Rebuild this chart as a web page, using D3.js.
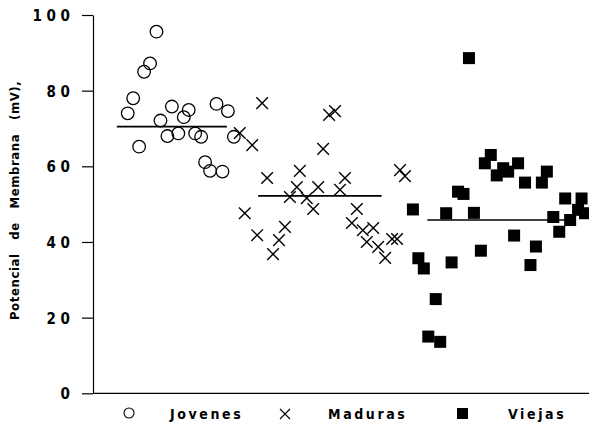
<!DOCTYPE html>
<html>
<head>
<meta charset="utf-8">
<script src="https://cdn.jsdelivr.net/npm/d3@7"></script>
<style>
  html, body { margin: 0; padding: 0; background: #fff; }
  svg { display: block; }
  text { font-family: "Liberation Sans Narrow", "DejaVu Sans Condensed", "Liberation Sans", sans-serif; font-weight: bold; fill: #000; }
</style>
</head>
<body>
<svg id="chart" width="589" height="431"></svg>
<script>
// Membrane potential (mV) per cell, grouped by age; pos = horizontal jitter along the axis (0-100)
const jovenesPos = [12.8, 11.5, 10.3, 8.1, 7.0, 9.3, 13.6, 15.0, 15.9, 17.2, 18.3, 19.3, 20.6, 21.8, 24.9, 27.2, 28.4, 22.6, 23.6, 26.1];
const jovenesVal = [95.6, 87.2, 85.0, 78.0, 74.0, 65.2, 72.1, 68.0, 75.8, 68.7, 73.0, 74.9, 68.7, 67.8, 76.5, 74.6, 67.8, 61.1, 58.8, 58.6];

const madurasPos = [29.6, 32.1, 34.1, 35.1, 41.7, 41.1, 39.7, 43.1, 44.4, 30.6, 45.4, 47.6, 48.8, 46.4, 50.8, 49.8, 53.2, 61.9, 62.9, 38.7, 33.1, 37.5, 36.3, 52.2, 54.4, 56.5, 55.2, 57.5, 60.3, 61.3, 58.9];
const madurasVal = [68.8, 65.6, 76.7, 56.9, 58.8, 54.5, 51.9, 51.6, 48.7, 47.6, 54.5, 73.6, 74.6, 64.6, 56.9, 53.8, 48.7, 59.0, 57.4, 44.0, 41.8, 40.5, 36.8, 45.0, 43.1, 43.7, 40.0, 38.7, 40.8, 40.8, 35.8];

const viejasPos = [75.8, 64.5, 80.2, 79.0, 81.4, 82.7, 83.7, 85.7, 87.1, 90.5, 91.5, 73.6, 74.7, 95.2, 98.5, 71.2, 76.8, 92.8, 97.8, 99.2, 96.2, 94.0, 84.9, 89.3, 78.2, 65.6, 66.7, 72.3, 88.2, 69.1, 67.6, 70.0];
const viejasVal = [88.6, 48.6, 63.0, 60.8, 57.6, 59.5, 58.6, 60.8, 55.7, 55.7, 58.6, 53.3, 52.7, 51.5, 51.5, 47.6, 47.7, 46.6, 48.5, 47.6, 45.8, 42.7, 41.7, 38.8, 37.7, 35.7, 33.0, 34.6, 33.9, 24.9, 15.0, 13.6];

// Group means drawn as horizontal segments
const groupNames = ["Jovenes", "Maduras", "Viejas"];
const meanVal = [70.5, 52.2, 45.8];
const meanFrom = [4.8, 33.3, 67.4];
const meanTo = [27.0, 58.2, 96.6];

const yTicks = [0, 20, 40, 60, 80, 100];
const yTitle = "Potencial de Membrana (mV),";

const svg = d3.select("#chart");
const x = d3.scaleLinear().domain([0, 100]).range([93, 589]);
const y = d3.scaleLinear().domain([0, 100]).range([393.3, 15]);

// Axes
const yAxis = d3.axisLeft(y).tickValues(yTicks).tickSize(11).tickSizeOuter(0)
  .tickFormat(d => String(d).split("").join(" "));
const gy = svg.append("g").attr("transform", `translate(${x(0)},0)`).call(yAxis);
gy.select(".domain").attr("stroke", "#000").attr("stroke-width", 1.2);
gy.selectAll(".tick line").attr("stroke", "#000").attr("stroke-width", 1.2);
gy.selectAll(".tick text")
  .attr("x", -23)
  .attr("dy", "0.36em")
  .style("font-size", "15px")
  .style("font-family", "\"Liberation Sans Narrow\", \"DejaVu Sans Condensed\", sans-serif")
  .style("font-weight", "bold")
  .attr("fill", "#000");

svg.append("line")
  .attr("x1", x(0)).attr("x2", x(100))
  .attr("y1", y(0)).attr("y2", y(0))
  .attr("stroke", "#000").attr("stroke-width", 1.2);

svg.append("text")
  .attr("transform", `translate(19,${y(51)}) rotate(-90)`)
  .attr("text-anchor", "middle")
  .style("font-size", "13px")
  .style("letter-spacing", "0.6px")
  .style("word-spacing", "9px")
  .text(yTitle);

// Mean lines
svg.append("g").selectAll("line")
  .data(meanVal)
  .join("line")
  .attr("x1", (d, i) => x(meanFrom[i]))
  .attr("x2", (d, i) => x(meanTo[i]))
  .attr("y1", d => y(d))
  .attr("y2", d => y(d))
  .attr("stroke", "#000")
  .attr("stroke-width", 1.6);

// Jovenes: open circles
svg.append("g").selectAll("circle")
  .data(jovenesVal)
  .join("circle")
  .attr("cx", (d, i) => x(jovenesPos[i]))
  .attr("cy", d => y(d))
  .attr("r", 6.3)
  .attr("fill", "none")
  .attr("stroke", "#000")
  .attr("stroke-width", 1.3);

// Maduras: crosses
const crossPath = s => `M${-s},${-s}L${s},${s}M${-s},${s}L${s},${-s}`;
svg.append("g").selectAll("path")
  .data(madurasVal)
  .join("path")
  .attr("transform", (d, i) => `translate(${x(madurasPos[i])},${y(d)})`)
  .attr("d", crossPath(5.8))
  .attr("fill", "none")
  .attr("stroke", "#000")
  .attr("stroke-width", 1.4);

// Viejas: filled squares
const sq = 12;
svg.append("g").selectAll("rect")
  .data(viejasVal)
  .join("rect")
  .attr("x", (d, i) => x(viejasPos[i]) - sq / 2)
  .attr("y", d => y(d) - sq / 2)
  .attr("width", sq)
  .attr("height", sq)
  .attr("fill", "#000");

// Legend
const legY = 413;
const leg = svg.append("g");
leg.append("circle").attr("cx", 129).attr("cy", legY).attr("r", 5)
  .attr("fill", "none").attr("stroke", "#000").attr("stroke-width", 1.1);
leg.append("path").attr("transform", `translate(285,${legY + 1})`).attr("d", crossPath(5))
  .attr("fill", "none").attr("stroke", "#000").attr("stroke-width", 1.1);
leg.append("rect").attr("x", 457).attr("y", 408).attr("width", 11).attr("height", 11).attr("fill", "#000");
const legX = [170, 328, 508];
leg.selectAll("text.lbl")
  .data(groupNames)
  .join("text")
  .attr("class", "lbl")
  .attr("x", (d, i) => legX[i])
  .attr("y", 419)
  .style("font-size", "14px")
  .style("letter-spacing", "2.6px")
  .text(d => d);
</script>
</body>
</html>
